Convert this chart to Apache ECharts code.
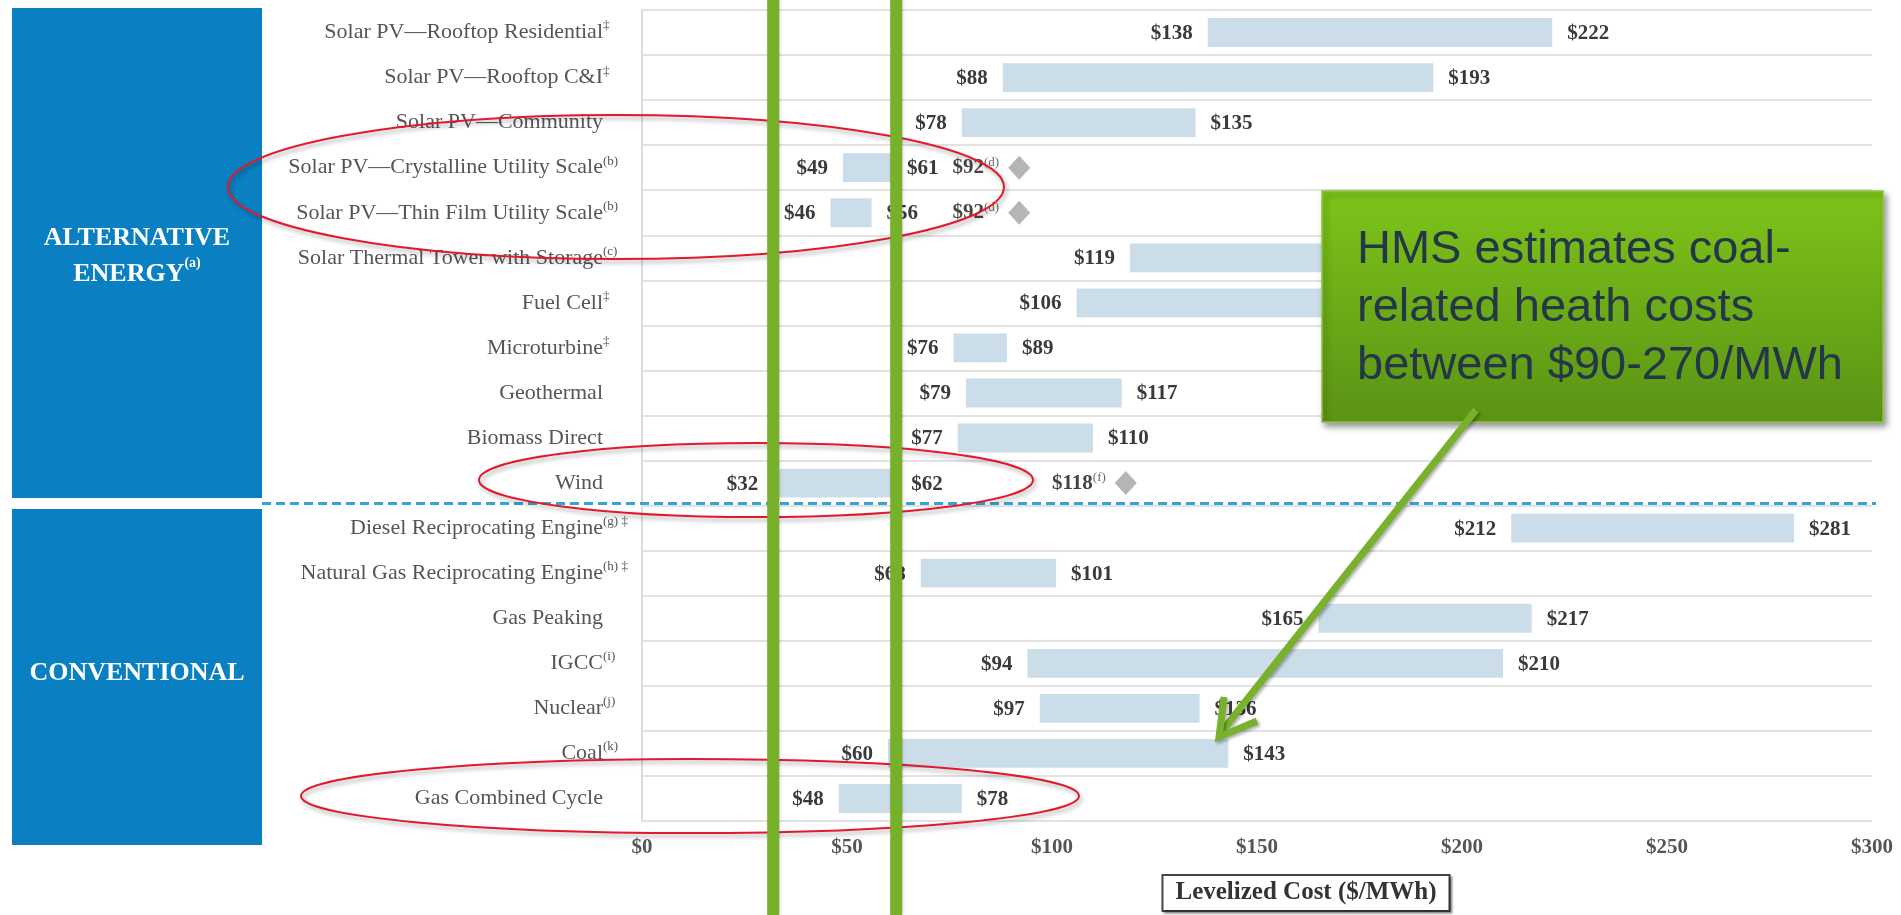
<!DOCTYPE html>
<html><head><meta charset="utf-8">
<script src="https://cdn.jsdelivr.net/npm/echarts@6/dist/echarts.min.js"></script>
<style>html,body{margin:0;padding:0;background:#fff;overflow:hidden}#c{width:1901px;height:915px}</style>
</head><body><div id="c"></div>
<script>
// ---------------- data ----------------
const categories = [
  'Solar PV\u2014Rooftop Residential',
  'Solar PV\u2014Rooftop C&I',
  'Solar PV\u2014Community',
  'Solar PV\u2014Crystalline Utility Scale',
  'Solar PV\u2014Thin Film Utility Scale',
  'Solar Thermal Tower with Storage',
  'Fuel Cell',
  'Microturbine',
  'Geothermal',
  'Biomass Direct',
  'Wind',
  'Diesel Reciprocating Engine',
  'Natural Gas Reciprocating Engine',
  'Gas Peaking',
  'IGCC',
  'Nuclear',
  'Coal',
  'Gas Combined Cycle'
];
const categoryNotes = ['\u2021','\u2021','','(b)','(b)','(c)','\u2021','\u2021','','','','(g) \u2021','(h) \u2021','','(i)','(j)','(k)',''];
const lowValues  = [138, 88, 78, 49, 46, 119, 106, 76, 79, 77, 32, 212, 68, 165, 94, 97, 60, 48];
const highValues = [222, 193, 135, 61, 56, 182, 167, 89, 117, 110, 62, 281, 101, 217, 210, 136, 143, 78];
const markerCategories = ['Solar PV\u2014Crystalline Utility Scale', 'Solar PV\u2014Thin Film Utility Scale', 'Wind'];
const markerValues = [92, 92, 118];
const markerNotes = ['(d)', '(d)', '(f)'];
const xTickMin = 0, xTickMax = 300, xTickStep = 50;
const highlightValues = [32, 62];
const groupLabels = ['ALTERNATIVE', 'ENERGY', 'CONVENTIONAL'];
const axisTitle = 'Levelized Cost ($/MWh)';
const calloutText = 'HMS estimates coal-\nrelated heath costs\nbetween $90-270/MWh';

// ---------------- chart ----------------
const SERIF = '"Liberation Serif", "DejaVu Serif", serif';
const rangeData = categories.map((c, i) => [i, lowValues[i], highValues[i]]);
const markerData = markerCategories.map((c, i) => [markerValues[i], c, markerNotes[i]]);

const chart = echarts.init(document.getElementById('c'), null, {renderer: 'canvas'});
const option = {
  animation: false,
  backgroundColor: '#ffffff',
  grid: {left: 642, right: 29, top: 10, bottom: 94},
  xAxis: {
    type: 'value', min: xTickMin, max: xTickMax, interval: xTickStep,
    axisLine: {show: false}, axisTick: {show: false}, splitLine: {show: false},
    axisLabel: {formatter: v => '$' + v, margin: 16, fontFamily: SERIF, fontWeight: 'bold', fontSize: 21, color: '#555'}
  },
  yAxis: {
    type: 'category', data: categories, inverse: true,
    axisLine: {show: true, lineStyle: {color: '#dcdcdc', width: 2}},
    axisTick: {show: false},
    splitLine: {show: true, lineStyle: {color: '#e2e2e2', width: 2}},
    axisLabel: {
      margin: 39,
      formatter: (v, i) => '{t|' + v + '}' + (categoryNotes[i] ? '{s|' + categoryNotes[i] + '}' : ''),
      rich: {
        t: {fontFamily: SERIF, fontSize: 22, color: '#555', lineHeight: 26, align: 'left'},
        s: {fontFamily: SERIF, fontSize: 13, color: '#555', verticalAlign: 'top', width: 0, align: 'left', lineHeight: 14}
      }
    }
  },
  series: [
    {
      type: 'custom',
      data: rangeData,
      encode: {x: [1, 2], y: 0},
      z: 2,
      renderItem: function (params, api) {
        const idx = api.value(0);
        const lo = api.coord([api.value(1), idx]);
        const hi = api.coord([api.value(2), idx]);
        const h = api.size([0, 1])[1] * 0.64;
        const font = 'bold 21px ' + SERIF;
        return {
          type: 'group',
          children: [
            {type: 'rect', shape: {x: lo[0], y: lo[1] - h / 2, width: hi[0] - lo[0], height: h}, style: {fill: '#cbdde9'}},
            {type: 'text', x: lo[0] - 15, y: lo[1] + 1, style: {text: '$' + api.value(1), align: 'right', verticalAlign: 'middle', font: font, fill: '#3a3a3a'}},
            {type: 'text', x: hi[0] + 15, y: hi[1] + 1, style: {text: '$' + api.value(2), align: 'left', verticalAlign: 'middle', font: font, fill: '#3a3a3a'}}
          ]
        };
      }
    },
    {
      type: 'scatter',
      data: markerData,
      symbol: 'diamond',
      symbolSize: [22, 24],
      itemStyle: {color: '#a3a3a3'},
      z: 3,
      label: {
        show: true, position: 'left', distance: 9,
        formatter: p => '{v|$' + p.data[0] + '}{s|' + p.data[2] + '}',
        rich: {
          v: {fontFamily: SERIF, fontWeight: 'bold', fontSize: 21, color: '#151515', lineHeight: 24},
          s: {fontFamily: SERIF, fontSize: 13, color: '#444', verticalAlign: 'top', lineHeight: 12}
        }
      }
    }
  ]
};
chart.setOption(option);

// ---------------- annotations ----------------
const px = v => chart.convertToPixel({xAxisIndex: 0}, v);
const py = c => chart.convertToPixel({yAxisIndex: 0}, c);
const sepY = (py('Wind') + py('Diesel Reciprocating Engine')) / 2 - 2;
const H = 915;

const ellipseStyle = {fill: 'none', stroke: '#e2192c', lineWidth: 2, shadowColor: 'rgba(0,0,0,0.35)', shadowBlur: 4, shadowOffsetX: 2, shadowOffsetY: 3};
const graphics = [
  // group panels
  {type: 'rect', shape: {x: 12, y: 8, width: 250, height: 490}, style: {fill: '#0a80c2'}, z: 10},
  {type: 'rect', shape: {x: 12, y: 509, width: 250, height: 336}, style: {fill: '#0a80c2'}, z: 10},
  {type: 'text', x: 137, y: 256, z: 11, style: {
    text: '{b|' + groupLabels[0] + '}\n{b|' + groupLabels[1] + '}{s|(a)}', align: 'center', verticalAlign: 'middle',
    rich: {
      b: {fontFamily: SERIF, fontWeight: 'bold', fontSize: 26, fill: '#ffffff', lineHeight: 36},
      s: {fontFamily: SERIF, fontWeight: 'bold', fontSize: 14, fill: '#ffffff', verticalAlign: 'top', lineHeight: 20}
    }}},
  {type: 'text', x: 137, y: 673, z: 11, style: {text: groupLabels[2], align: 'center', verticalAlign: 'middle',
    font: 'bold 26px ' + SERIF, fill: '#ffffff'}},
  // dashed separator
  {type: 'line', shape: {x1: 262, y1: sepY, x2: 1876, y2: sepY}, style: {stroke: '#35a4d8', lineWidth: 3, lineDash: [9, 5]}, z: 12},
  // axis title box
  {type: 'text', x: 1306, y: 893, z: 12, style: {
    text: axisTitle, align: 'center', verticalAlign: 'middle', font: 'bold 25px ' + SERIF, fill: '#333',
    borderColor: '#444', borderWidth: 2, padding: [5, 12, 4, 12], backgroundColor: '#fff',
    shadowColor: 'rgba(0,0,0,0.35)', shadowBlur: 2, shadowOffsetX: 2, shadowOffsetY: 2}},
  // red ellipses
  {type: 'ellipse', shape: {cx: 616, cy: 187, rx: 388, ry: 72}, z: 50, style: ellipseStyle},
  {type: 'ellipse', shape: {cx: 756, cy: 480, rx: 277, ry: 37}, z: 50, style: ellipseStyle},
  {type: 'ellipse', shape: {cx: 690, cy: 796, rx: 389, ry: 37}, z: 50, style: ellipseStyle}
];
// green vertical highlight lines at the wind range
highlightValues.forEach(v => {
  graphics.push({type: 'rect', shape: {x: px(v) - 6, y: 0, width: 12, height: H}, z: 60,
    style: {fill: '#77b02a', shadowColor: 'rgba(0,0,0,0.25)', shadowBlur: 3, shadowOffsetX: 1}});
});
// callout box
graphics.push({type: 'rect', shape: {x: 1322, y: 191, width: 561, height: 231}, z: 70,
  style: {
    fill: new echarts.graphic.LinearGradient(0, 0, 0, 1, [{offset: 0, color: '#7ec41a'}, {offset: 1, color: '#5b9315'}]),
    stroke: '#8cc63f', lineWidth: 1.5, shadowColor: 'rgba(0,0,0,0.4)', shadowBlur: 6, shadowOffsetX: 3, shadowOffsetY: 4}});
graphics.push({type: 'text', x: 1357, y: 221, z: 71, style: {
  text: calloutText, font: '47px "Liberation Sans", Arial, sans-serif', fill: '#243749', lineHeight: 58, align: 'left', verticalAlign: 'top'}});
// arrow
graphics.push({type: 'line', shape: {x1: 1476, y1: 410, x2: 1222, y2: 731}, z: 80,
  style: {stroke: '#78b22c', lineWidth: 7, shadowColor: 'rgba(0,0,0,0.3)', shadowBlur: 3, shadowOffsetX: 2, shadowOffsetY: 2}});
graphics.push({type: 'polyline', shape: {points: [[1257, 721], [1219, 737], [1224, 697]]}, z: 80,
  style: {stroke: '#78b22c', lineWidth: 7, fill: 'none', lineJoin: 'miter', shadowColor: 'rgba(0,0,0,0.3)', shadowBlur: 3, shadowOffsetX: 2, shadowOffsetY: 2}});

chart.setOption({graphic: graphics});
</script>
</body></html>
